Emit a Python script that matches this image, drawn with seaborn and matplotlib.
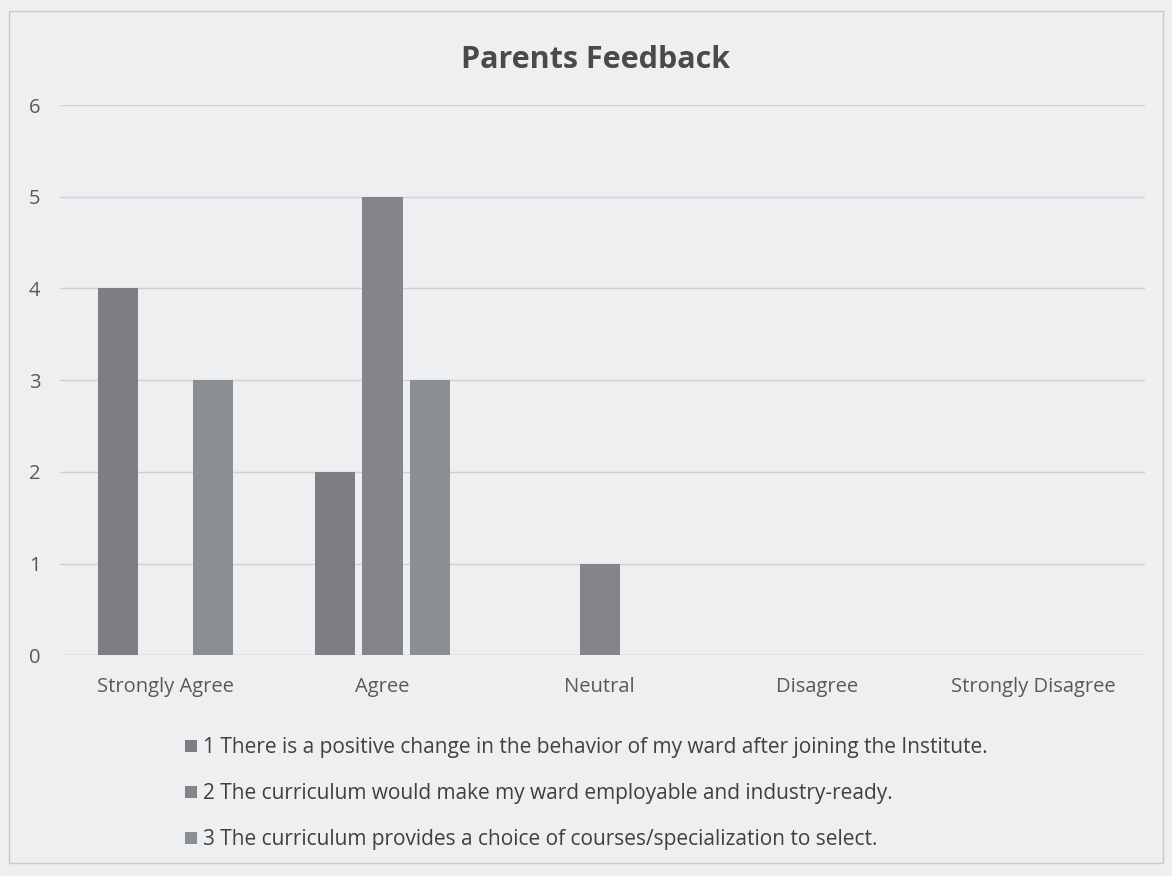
import matplotlib
matplotlib.use("Agg")
import matplotlib.pyplot as plt
import seaborn as sns
import pandas as pd
from matplotlib.patches import Rectangle

categories = ["Strongly Agree", "Agree", "Neutral", "Disagree", "Strongly Disagree"]
series_names = [
    "1 There is a positive change in the behavior of my ward after joining the Institute.",
    "2 The curriculum would make my ward employable and industry-ready.",
    "3 The curriculum provides a choice of courses/specialization to select.",
]
s1_values = [4, 2, 0, 0, 0]
s2_values = [0, 5, 1, 0, 0]
s3_values = [3, 3, 0, 0, 0]
y_ticks = [0, 1, 2, 3, 4, 5, 6]
title = "Parents Feedback"

rows = []
for name, vals in zip(series_names, [s1_values, s2_values, s3_values]):
    for c, v in zip(categories, vals):
        rows.append({"Category": c, "Series": name, "Value": v})
df = pd.DataFrame(rows)

sns.set_theme(style="white")
plt.rcParams["font.family"] = ["Open Sans", "DejaVu Sans"]

bg = "#eeeff1"
fig = plt.figure(figsize=(11.72, 8.76), dpi=100, facecolor=bg)
ax = fig.add_axes([0.051, 0.252, 0.926, 0.628])
ax.set_facecolor(bg)

palette = ["#7c7e81", "#838588", "#8c8f92"]
sns.barplot(data=df, x="Category", y="Value", hue="Series", order=categories,
            hue_order=series_names, palette=palette, width=0.66, gap=0.16,
            saturation=1, linewidth=0, edgecolor="none", ax=ax, legend=True)

ax.set_ylim(0, 6)
ax.set_xlim(-0.487, 4.513)
ax.set_yticks(y_ticks)
ax.yaxis.grid(True, color="#cfd0d3", linewidth=1)
ax.set_axisbelow(True)
for sp in ax.spines.values():
    sp.set_visible(False)
ax.axhline(0, color="#cfd0d3", linewidth=1, zorder=0)
ax.set_xlabel("")
ax.set_ylabel("")
ax.tick_params(axis="both", length=0, labelsize=14.5, colors="#595959")
ax.tick_params(axis="y", pad=14)
ax.tick_params(axis="x", pad=16)

fig.text(0.508, 0.931, title, ha="center", va="center", fontsize=22,
         fontweight="bold", color="#4a4a4a")

handles, labels = ax.get_legend_handles_labels()
ax.get_legend().remove()
leg = fig.legend(handles, labels, loc="upper left", bbox_to_anchor=(0.151, 0.168),
                 frameon=False, fontsize=15, labelspacing=1.2,
                 handlelength=0.55, handleheight=0.55, handletextpad=0.3,
                 borderaxespad=0)
for t in leg.get_texts():
    t.set_color("#404040")

fig.patches.append(Rectangle((0.008, 0.015), 0.984, 0.972, transform=fig.transFigure,
                             fill=False, edgecolor="#c8c9cc", linewidth=1))

fig.savefig("out.png", dpi=100, facecolor=bg)
